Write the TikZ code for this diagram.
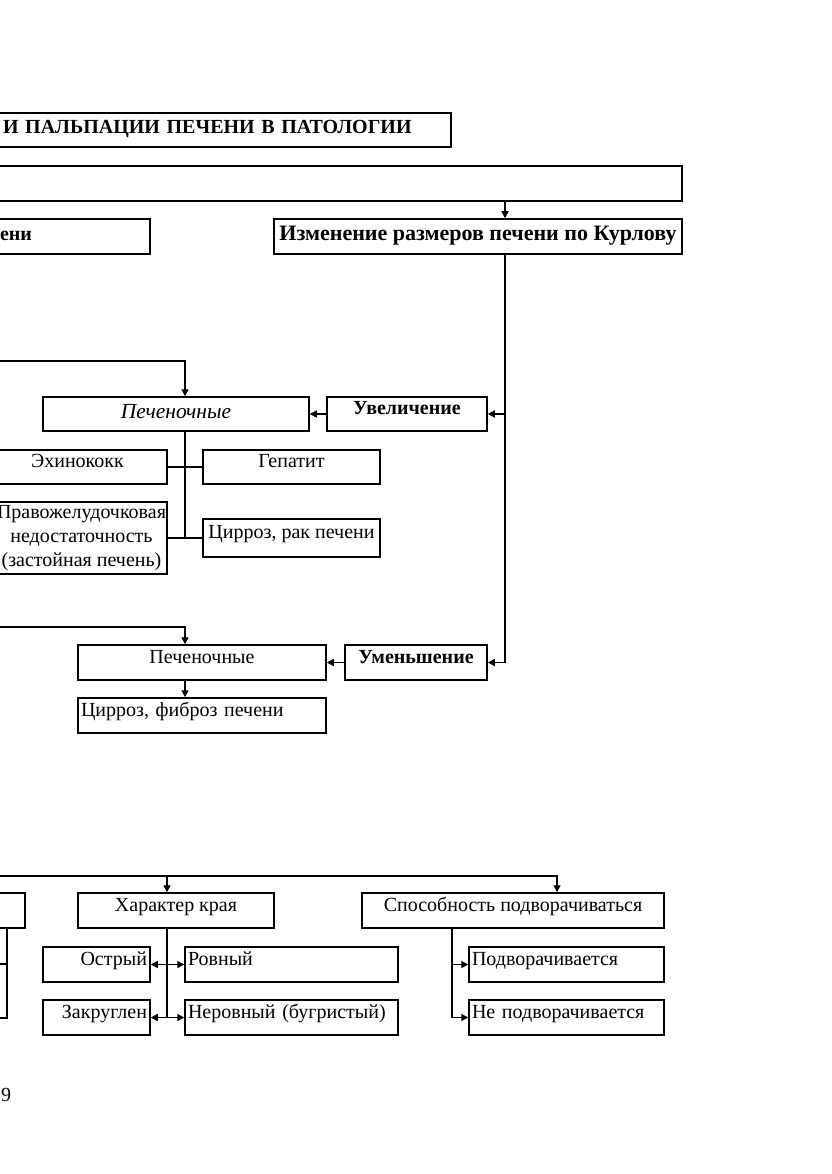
\documentclass[tikz,border=0pt]{standalone}
\usepackage{fontspec}
\setmainfont{Liberation Serif}
\usetikzlibrary{arrows.meta}
\newcommand\bx[7]{%
  \node[box, minimum width={(#4)-(#2)}, minimum height={(#5)-(#3)}, #6] (#1) at ({((#2)+(#4))/2},{((#3)+(#5))/2}) {#7};}
\begin{document}
\begin{tikzpicture}[x=1pt,y=-1pt,
  box/.style={draw, line width=1.5pt, inner sep=0pt, font=\fontsize{20}{24}\selectfont},
  bf/.style={font=\fontsize{20}{24}\selectfont\bfseries},
  bfl/.style={font=\fontsize{22}{26}\selectfont\bfseries},
  itl/.style={font=\fontsize{21.5}{26}\selectfont\itshape},
  ln/.style={line width=1.4pt},
  arr/.style={ln, -{Triangle[length=7pt,width=7pt]}},
  darr/.style={ln, {Triangle[length=7pt,width=7pt]}-{Triangle[length=7pt,width=7pt]}},
  up/.style={text height=0.5em, text depth=0.4em},
  mid/.style={text height=0.8em, text depth=0em},
  lt/.style={align=left, inner xsep=3pt, text width=#1},
  rt/.style={align=right, inner xsep=3pt, text width=#1},
]
\fill[white] (0,0) rectangle (831,1174);
\useasboundingbox (0,0) rectangle (831,1174);
\clip (0,0) rectangle (831,1174);

\bx{title}{-10}{113}{451}{147}{bf, align=left, inner xsep=13pt, text width=435pt, mid}{И ПАЛЬПАЦИИ ПЕЧЕНИ В ПАТОЛОГИИ}
\bx{wide}{-10}{166}{682}{201}{}{}
\bx{eni}{-10}{219}{150}{254}{bf, align=left, inner xsep=10pt, text width=140pt, mid}{ени}
\bx{kurl}{274}{219}{682}{254}{bfl, mid}{Изменение размеров печени по Курлову}
\bx{pech1}{43}{397}{309}{431}{itl, mid}{Печеночные}
\bx{uvel}{327}{397}{487}{431}{bf, up}{Увеличение}
\bx{ech}{-12}{450}{167}{484}{up}{Эхинококк}
\bx{gep}{203}{450}{380}{484}{up}{Гепатит}
\bx{prav}{-4}{502}{167}{574}{align=center}{Правожелудочковая\\недостаточность\\(застойная печень)}
\bx{cirr}{203}{519}{380}{557}{up}{Цирроз, рак печени}
\bx{pech2}{78}{645}{326}{680}{up}{Печеночные}
\bx{umen}{345}{645}{487}{680}{bf, up}{Уменьшение}
\bx{cirf}{78}{698}{326}{733}{up, lt=242pt}{Цирроз, фиброз печени}
\bx{lb}{-10}{893}{25}{928}{}{}
\bx{har}{78}{893}{274}{928}{up}{Характер края}
\bx{spos}{362}{893}{664}{928}{up}{Способность подворачиваться}
\bx{ostr}{43}{947}{150}{982}{up, rt=101pt}{Острый}
\bx{rovn}{185}{947}{398}{982}{up, lt=207pt}{Ровный}
\bx{zakr}{43}{1000}{150}{1035}{up, rt=101pt}{Закруглен}
\bx{nerov}{185}{1000}{398}{1035}{up, lt=207pt}{Неровный (бугристый)}
\bx{podv}{469}{947}{664}{982}{up, lt=189pt}{Подворачивается}
\bx{nepodv}{469}{1000}{664}{1035}{up, lt=189pt}{Не подворачивается}
\node[anchor=base west, inner sep=0pt, font=\fontsize{20}{24}\selectfont] (pnum) at (1,1101) {9};

\coordinate (k505) at (505,0);
\coordinate (c185) at (185,0);
\coordinate (c167) at (167,0);
\coordinate (c557) at (557,0);
\coordinate (c452) at (452,0);
\coordinate (c7) at (7,0);
\coordinate (L1) at (-5,361);
\coordinate (L2) at (-5,627);
\coordinate (L3) at (-5,876);
\coordinate (L4) at (-5,964);
\coordinate (L5) at (-5,1018);

\draw[arr] (wide.south -| k505) -- (kurl.north -| k505);
\draw[arr] (kurl.south -| k505) |- (uvel.east);
\draw[arr] (kurl.south -| k505) |- (umen.east);
\draw[arr] (uvel.west) -- (pech1.east);
\draw[arr] (L1) -| (c185 |- pech1.north);
\draw[ln] (c185 |- pech1.south) -- (c185 |- cirr.west);
\draw[ln] (ech.east) -- (gep.west);
\draw[ln] (prav.east) -- (cirr.west);
\draw[arr] (L2) -| (c185 |- pech2.north);
\draw[arr] (umen.west) -- (pech2.east);
\draw[arr] (c185 |- pech2.south) -- (c185 |- cirf.north);
\draw[arr] (L3) -| (c557 |- spos.north);
\draw[arr] (c167 |- L3) -- (c167 |- har.north);
\draw[ln] (c7 |- lb.south) |- (L5);
\draw[ln] (c7 |- L4) -- (L4);
\draw[ln] (c167 |- har.south) -- (c167 |- zakr.east);
\draw[darr] (ostr.east) -- (rovn.west);
\draw[darr] (zakr.east) -- (nerov.west);
\draw[arr] (c452 |- spos.south) |- (podv.west);
\draw[arr] (c452 |- spos.south) |- (nepodv.west);
\end{tikzpicture}
\end{document}
